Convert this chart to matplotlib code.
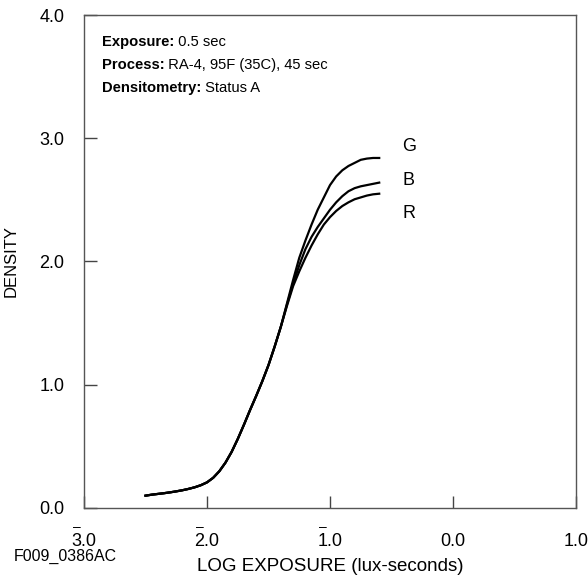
import numpy as np
import matplotlib
matplotlib.use('Agg')
import matplotlib.pyplot as plt

plt.rcParams['font.family'] = ['Liberation Sans', 'DejaVu Sans']

## 数据 (log exposure, density) —— 三条曲线共用同一组 log E
logE = [-2.50, -2.45, -2.40, -2.35, -2.30, -2.25, -2.20, -2.15, -2.10, -2.05,
        -2.00, -1.95, -1.90, -1.85, -1.80, -1.75, -1.70, -1.65, -1.60, -1.55,
        -1.50, -1.45, -1.40, -1.35, -1.30, -1.25, -1.20, -1.15, -1.10, -1.05,
        -1.00, -0.95, -0.90, -0.85, -0.80, -0.75, -0.70, -0.65, -0.60]

# 低密度部分三条曲线基本重合
dens_toe = [0.100, 0.108, 0.114, 0.120, 0.127, 0.135, 0.144, 0.155, 0.168, 0.185,
            0.208, 0.245, 0.298, 0.368, 0.455, 0.560, 0.675, 0.795, 0.910, 1.030,
            1.160, 1.310, 1.470]

dens_G = dens_toe + [1.66, 1.85, 2.03, 2.17, 2.30, 2.42, 2.52,
                     2.62, 2.69, 2.74, 2.775, 2.80, 2.825, 2.835, 2.84, 2.84]
dens_B = dens_toe + [1.65, 1.82, 1.97, 2.10, 2.20, 2.28, 2.35,
                     2.42, 2.48, 2.53, 2.57, 2.595, 2.61, 2.62, 2.63, 2.64]
dens_R = dens_toe + [1.64, 1.80, 1.92, 2.03, 2.13, 2.22, 2.30,
                     2.36, 2.41, 2.45, 2.48, 2.505, 2.52, 2.535, 2.545, 2.55]

curve_names = ['G', 'B', 'R']
label_x = -0.41
label_y = [2.93, 2.66, 2.39]

xticks = [-3, -2, -1, 0, 1]
xtick_labels = ['3.0', '2.0', '1.0', '0.0', '1.0']
xtick_bar = [True, True, True, False, False]   # 负数用上划线记法
yticks = [0, 1, 2, 3, 4]
ytick_labels = ['0.0', '1.0', '2.0', '3.0', '4.0']

fig = plt.figure(figsize=(5.88, 5.77), dpi=100)
ax = fig.add_axes([0.1429, 0.1196, 0.8367, 0.8544])

for d in [dens_G, dens_B, dens_R]:
    ax.plot(logE, d, color='black', lw=1.6, solid_joinstyle='round')

for name, yy in zip(curve_names, label_y):
    ax.text(label_x, yy, name, fontsize=13, ha='left', va='center')

ax.set_xlim(-3, 1)
ax.set_ylim(0, 4)
ax.set_xticks(xticks)
ax.set_xticklabels(xtick_labels, fontsize=13)
ax.set_yticks(yticks)
ax.set_yticklabels(ytick_labels, fontsize=13)
ax.tick_params(direction='in', length=9, width=1.0, color='#444444')
ax.tick_params(axis='x', pad=18)
ax.tick_params(axis='y', pad=14)
for s in ax.spines.values():
    s.set_color('#555555')
    s.set_linewidth(1.0)

# 上划线
for xt, bar in zip(xticks, xtick_bar):
    if bar:
        ax.annotate('\u2013', xy=(xt, 0), xycoords=('data', 'axes fraction'),
                    xytext=(-7.5, -19), textcoords='offset pixels',
                    fontsize=10, ha='center', va='center')

ax.set_ylabel('DENSITY', fontsize=12)
ax.yaxis.set_label_coords(-0.133, 0.5)
ax.set_xlabel('LOG EXPOSURE (lux-seconds)', fontsize=13.5, labelpad=6)
fig.text(0.024, 0.036, 'F009_0386AC', fontsize=11.5, ha='left', va='center')

## 说明文字
info = [('Exposure:', ' 0.5 sec'),
        ('Process:', ' RA-4, 95F (35C), 45 sec'),
        ('Densitometry:', ' Status A')]
ty = [0.945, 0.898, 0.851]
for (b, n), yy in zip(info, ty):
    t = ax.text(0.036, yy, b, transform=ax.transAxes, fontsize=10.6,
                fontweight='bold', ha='left', va='center')
    ax.annotate(n, xy=(1, 0.5), xycoords=t, fontsize=10.6, ha='left', va='center')

fig.savefig('out.png', dpi=100)
